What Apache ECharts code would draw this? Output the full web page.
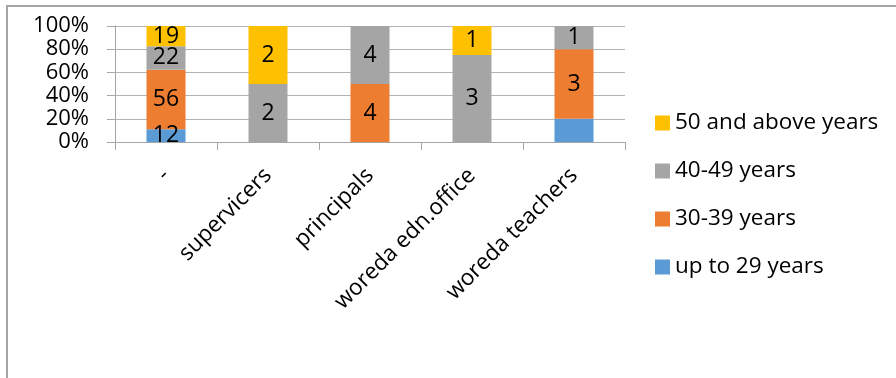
<!DOCTYPE html>
<html>
<head>
<meta charset="utf-8">
<style>
  html, body { margin: 0; padding: 0; background: #fff; }
  #chart { width: 896px; height: 378px; }
</style>
<script src="https://cdn.jsdelivr.net/npm/echarts@6/dist/echarts.min.js"></script>
</head>
<body>
<div id="chart"></div>
<script>
// Respondent groups along the category axis
const categories = ['-', 'supervicers', 'principals', 'woreda edn.office', 'woreda teachers'];

// Head counts per age band (one value per group)
const upTo29   = [12, 0, 0, 0, 1];
const age30to39 = [56, 0, 4, 0, 3];
const age40to49 = [22, 2, 4, 3, 1];
const age50up   = [19, 2, 0, 1, 0];

// Counts drawn without a value label
const hiddenLabels = { 'up to 29 years': [4] };

const yTicks = [0, 20, 40, 60, 80, 100];

const seriesDefs = [
  { name: 'up to 29 years',     data: upTo29,    color: '#5B9BD5' },
  { name: '30-39 years',        data: age30to39, color: '#ED7D31' },
  { name: '40-49 years',        data: age40to49, color: '#A5A5A5' },
  { name: '50 and above years', data: age50up,   color: '#FFC000' }
];

const FONT = '"Open Sans", "Noto Sans", sans-serif';

// Totals per group so each column fills 100 %
const totals = categories.map((_, i) => seriesDefs.reduce((s, d) => s + d.data[i], 0));

const series = seriesDefs.map(d => ({
  name: d.name,
  type: 'bar',
  stack: 'share',
  barWidth: 39,
  itemStyle: { color: d.color },
  data: d.data.map((v, i) => {
    const hide = v === 0 || (hiddenLabels[d.name] || []).includes(i);
    return {
      value: v / totals[i] * 100,
      count: v,
      label: { show: !hide }
    };
  }),
  label: {
    show: true,
    position: 'inside',
    color: '#000',
    fontFamily: FONT,
    fontSize: 23,
    formatter: p => String(p.data.count)
  },
  emphasis: { disabled: true }
}));

const chart = echarts.init(document.getElementById('chart'), null, { renderer: 'canvas' });
chart.setOption({
  animation: false,
  backgroundColor: '#fff',
  graphic: [{
    type: 'rect',
    shape: { x: 7, y: 6, width: 920, height: 400 },
    style: { fill: 'none', stroke: '#a6a6a6', lineWidth: 2 },
    silent: true
  }],
  grid: { left: 115, right: 271, top: 26, bottom: 236 },
  legend: {
    orient: 'vertical',
    left: 650,
    top: 105,
    icon: 'rect',
    itemWidth: 15,
    itemHeight: 15,
    itemGap: 22,
    data: ['50 and above years', '40-49 years', '30-39 years', 'up to 29 years'],
    textStyle: { fontFamily: FONT, fontSize: 22.5, color: '#000', lineHeight: 26 }
  },
  xAxis: {
    type: 'category',
    data: categories,
    axisLine: { show: true, lineStyle: { color: '#a6a6a6', width: 1 } },
    axisTick: { show: true, length: 8, lineStyle: { color: '#a6a6a6' } },
    axisLabel: {
      rotate: 45,
      margin: 30,
      interval: 0,
      color: '#000',
      fontFamily: FONT,
      fontSize: 22.5
    }
  },
  yAxis: {
    type: 'value',
    min: 0,
    max: 100,
    interval: 20,
    axisLine: { show: true, lineStyle: { color: '#a6a6a6', width: 1 } },
    axisTick: { show: true, length: 8, lineStyle: { color: '#a6a6a6' } },
    splitLine: { show: true, lineStyle: { color: '#b4b4b4', width: 1 } },
    axisLabel: {
      margin: 26,
      color: '#000',
      fontFamily: FONT,
      fontSize: 22,
      formatter: v => yTicks.includes(v) ? v + '%' : ''
    }
  },
  series: series
});
</script>
</body>
</html>
